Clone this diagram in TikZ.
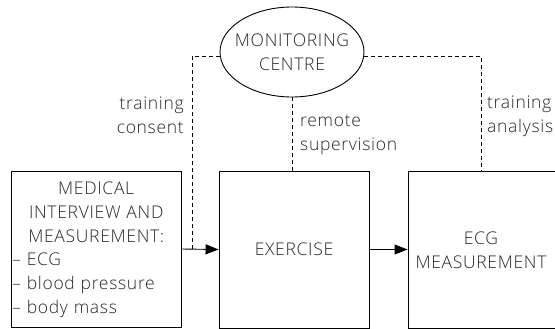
\documentclass[tikz,border=0pt]{standalone}
\usepackage{fontspec}
\setmainfont{Open Sans Light}[LetterSpace=4]
\usetikzlibrary{shapes.geometric,arrows.meta}
\definecolor{txt}{HTML}{262626}
\tikzset{
  boxnode/.style={draw=black, line width=0.9pt, rectangle, inner sep=0pt, text=txt},
  txtnode/.style={text=txt, inner sep=0pt},
  link/.style={line width=0.9pt, dashed, dash pattern=on 4pt off 3pt},
  flow/.style={line width=0.9pt, -{Triangle[length=13pt,width=10pt]}},
}
\begin{document}
\begin{tikzpicture}[x=1pt, y=-1pt, font=\fontsize{17.5}{23.7}\selectfont]
\useasboundingbox (0,0) rectangle (555,329);

% monitoring centre
\node[ellipse, draw=black, line width=0.9pt, minimum width=144pt, minimum height=90pt,
      inner sep=0pt] (mon) at (292,52) {};
\node[txtnode, align=center] (montxt) at (mon.center) {MONITORING\\CENTRE};

% process boxes
\node[boxnode, minimum width=170pt, minimum height=156pt] (med) at (96,249) {};
\node[boxnode, minimum width=150pt, minimum height=157pt] (ex) at (294,249.5) {EXERCISE};
\node[boxnode, minimum width=149pt, minimum height=157pt] (ecg) at (482.5,249.5) {};
\node[txtnode, align=center] (ecgtxt) at (481,250) {ECG\\MEASUREMENT};

% text of the first box
\node[txtnode, text width=168pt, align=left, anchor=north west] (medtxt) at (12,182)
  {{\centering MEDICAL\\INTERVIEW AND\\MEASUREMENT:\par}%
   – ECG\\– blood pressure\\– body mass};

% junction of the consent line with the first arrow
\coordinate (jl) at (192,249);

% dashed links from the centre
\draw[link] ([yshift=-4pt]mon.west) -| (jl);
\draw[link] (mon.south) -- (mon.south |- ex.north);
\draw[link] ([yshift=-4pt]mon.east) -| (ecgtxt.center |- ecg.north);

% labels of the links
\node[txtnode, align=right, anchor=east] (lcons) at (184,115) {training\\consent};
\node[txtnode, align=left, anchor=west] (lsup) at (300,135) {remote\\supervision};
\node[txtnode, align=left, anchor=west] (lana) at (487,116) {training\\analysis};

% flow arrows
\draw[flow] (med.east) -- (ex.west);
\draw[flow] (ex.east) -- (ecg.west);
\end{tikzpicture}
\end{document}
